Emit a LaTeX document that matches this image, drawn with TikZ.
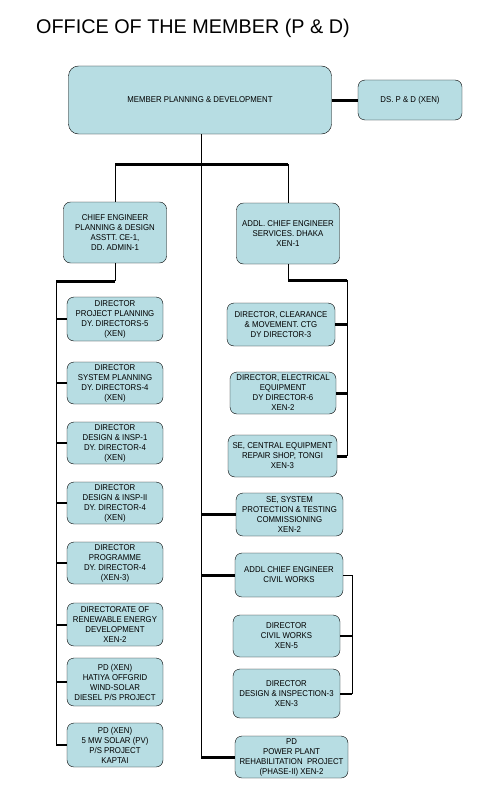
\documentclass[tikz,border=0pt]{standalone}
\usepackage{fontspec}
\setmainfont{Liberation Sans}
\newfontfamily\unitfont[FakeStretch=0.92]{Liberation Sans}
\usepackage{xcolor}
\definecolor{PowderBlue}{HTML}{B7DDE3}
\tikzset{
  unit/.style={draw=black, fill=PowderBlue, rounded corners=7bp, align=center,
    inner sep=0pt, font=\unitfont\fontsize{8.5bp}{10bp}\selectfont},
  wire/.style={line width=1bp},
  stub/.style={line width=2bp},
  bus/.style={line width=3bp}
}
\begin{document}
\begin{tikzpicture}[x=1bp,y=-1bp]
    \useasboundingbox (0,0) rectangle (478,792);
    \node[anchor=base west, inner sep=0pt, font=\fontsize{19.8bp}{24bp}\selectfont] (title) at (36,34) {OFFICE OF THE MEMBER (P \& D)};

    % top
    \node[unit, rounded corners=10bp, minimum width=263bp, minimum height=68bp] (member) at (200,100) {MEMBER PLANNING \& DEVELOPMENT};
    \node[unit, minimum width=104bp, minimum height=40bp] (ds) at (410,100) {DS. P \& D (XEN)};
    \node[unit, minimum width=103bp, minimum height=61bp] (ce) at (115,232.5) {CHIEF ENGINEER\\PLANNING \& DESIGN\\ASSTT. CE-1,\\DD. ADMIN-1};
    \node[unit, minimum width=103bp, minimum height=61bp] (addl) at (288,233.5) {ADDL. CHIEF ENGINEER\\SERVICES. DHAKA\\XEN-1};

    % left column
    \node[unit, minimum width=96bp, minimum height=44bp] (l1) at (115,319) {DIRECTOR\\PROJECT PLANNING\\DY. DIRECTORS-5\\(XEN)};
    \node[unit, minimum width=96bp, minimum height=42bp] (l2) at (115,383) {DIRECTOR\\SYSTEM PLANNING\\DY. DIRECTORS-4\\(XEN)};
    \node[unit, minimum width=96bp, minimum height=42bp] (l3) at (115,443) {DIRECTOR\\DESIGN \& INSP-1\\DY. DIRECTOR-4\\(XEN)};
    \node[unit, minimum width=96bp, minimum height=42bp] (l4) at (115,503) {DIRECTOR\\DESIGN \& INSP-II\\DY. DIRECTOR-4\\(XEN)};
    \node[unit, minimum width=96bp, minimum height=42bp] (l5) at (115,563) {DIRECTOR\\PROGRAMME\\DY. DIRECTOR-4\\(XEN-3)};
    \node[unit, minimum width=96bp, minimum height=43bp] (l6) at (115,624.5) {DIRECTORATE OF\\RENEWABLE ENERGY\\DEVELOPMENT\\XEN-2};
    \node[unit, minimum width=96bp, minimum height=48bp] (l7) at (115,682) {PD (XEN)\\HATIYA OFFGRID\\WIND-SOLAR\\DIESEL P/S PROJECT};
    \node[unit, minimum width=96bp, minimum height=44bp] (l8) at (115,745) {PD (XEN)\\5 MW SOLAR (PV)\\P/S PROJECT\\KAPTAI};

    % right column
    \node[unit, minimum width=108bp, minimum height=43bp] (r1) at (281,324.5) {DIRECTOR, CLEARANCE\\\& MOVEMENT. CTG\\DY DIRECTOR-3};
    \node[unit, minimum width=106bp, minimum height=42bp] (r2) at (283,393) {DIRECTOR, ELECTRICAL\\EQUIPMENT\\DY DIRECTOR-6\\XEN-2};
    \node[unit, minimum width=109bp, minimum height=42bp] (r3) at (282.5,456) {SE, CENTRAL EQUIPMENT\\REPAIR SHOP, TONGI\\XEN-3};
    \node[unit, minimum width=107bp, minimum height=43bp] (s1) at (289.5,514.5) {SE, SYSTEM\\PROTECTION \& TESTING\\COMMISSIONING\\XEN-2};
    \node[unit, minimum width=108bp, minimum height=44bp] (s2) at (289,575) {ADDL CHIEF ENGINEER\\CIVIL WORKS};
    \node[unit, minimum width=107bp, minimum height=42bp] (s3) at (286.5,636) {DIRECTOR\\CIVIL WORKS\\XEN-5};
    \node[unit, minimum width=107bp, minimum height=49bp] (s4) at (286.5,693.5) {DIRECTOR\\DESIGN \& INSPECTION-3\\XEN-3};
    \node[unit, minimum width=113bp, minimum height=42bp] (s5) at (291.5,757) {PD\\POWER PLANT\\REHABILITATION\ \ PROJECT\\(PHASE-II) XEN-2};

    % bus points
    \coordinate (top) at (201,164);
    \coordinate (lbus) at (56,281);
    \coordinate (rbus) at (347,280);
    \coordinate (cbus) at (352,575);

    \draw[bus] (member.east) -- (ds.west);
    \draw[wire] (member.south -| top) -- (top |- s5.west);
    \draw[bus] (ce.north |- top) -- (addl.north |- top);
    \draw[wire] (ce.north |- top) -- (ce.north);
    \draw[wire] (addl.north |- top) -- (addl.north);

    \draw[wire] (ce.south) -- (ce.south |- lbus);
    \draw[bus] (ce.south |- lbus) -- (lbus);
    \draw[wire] (lbus) -- (lbus |- l8.west);
    \foreach \n in {l1,l2,l3,l4,l5,l6,l7,l8}
        \draw[stub] (lbus |- \n.west) -- (\n.west);

    \draw[wire] (addl.south) -- (addl.south |- rbus);
    \draw[bus] (addl.south |- rbus) -- (rbus);
    \draw[wire] (rbus) -- (rbus |- r3.east);
    \foreach \n in {r1,r2,r3}
        \draw[bus] (rbus |- \n.east) -- (\n.east);

    \foreach \n in {s1,s2,s5}
        \draw[bus] (top |- \n.west) -- (\n.west);

    \draw[wire] (s2.east) -- (cbus) -- (cbus |- s4.east);
    \foreach \n in {s3,s4}
        \draw[stub] (cbus |- \n.east) -- (\n.east);
\end{tikzpicture}
\end{document}
